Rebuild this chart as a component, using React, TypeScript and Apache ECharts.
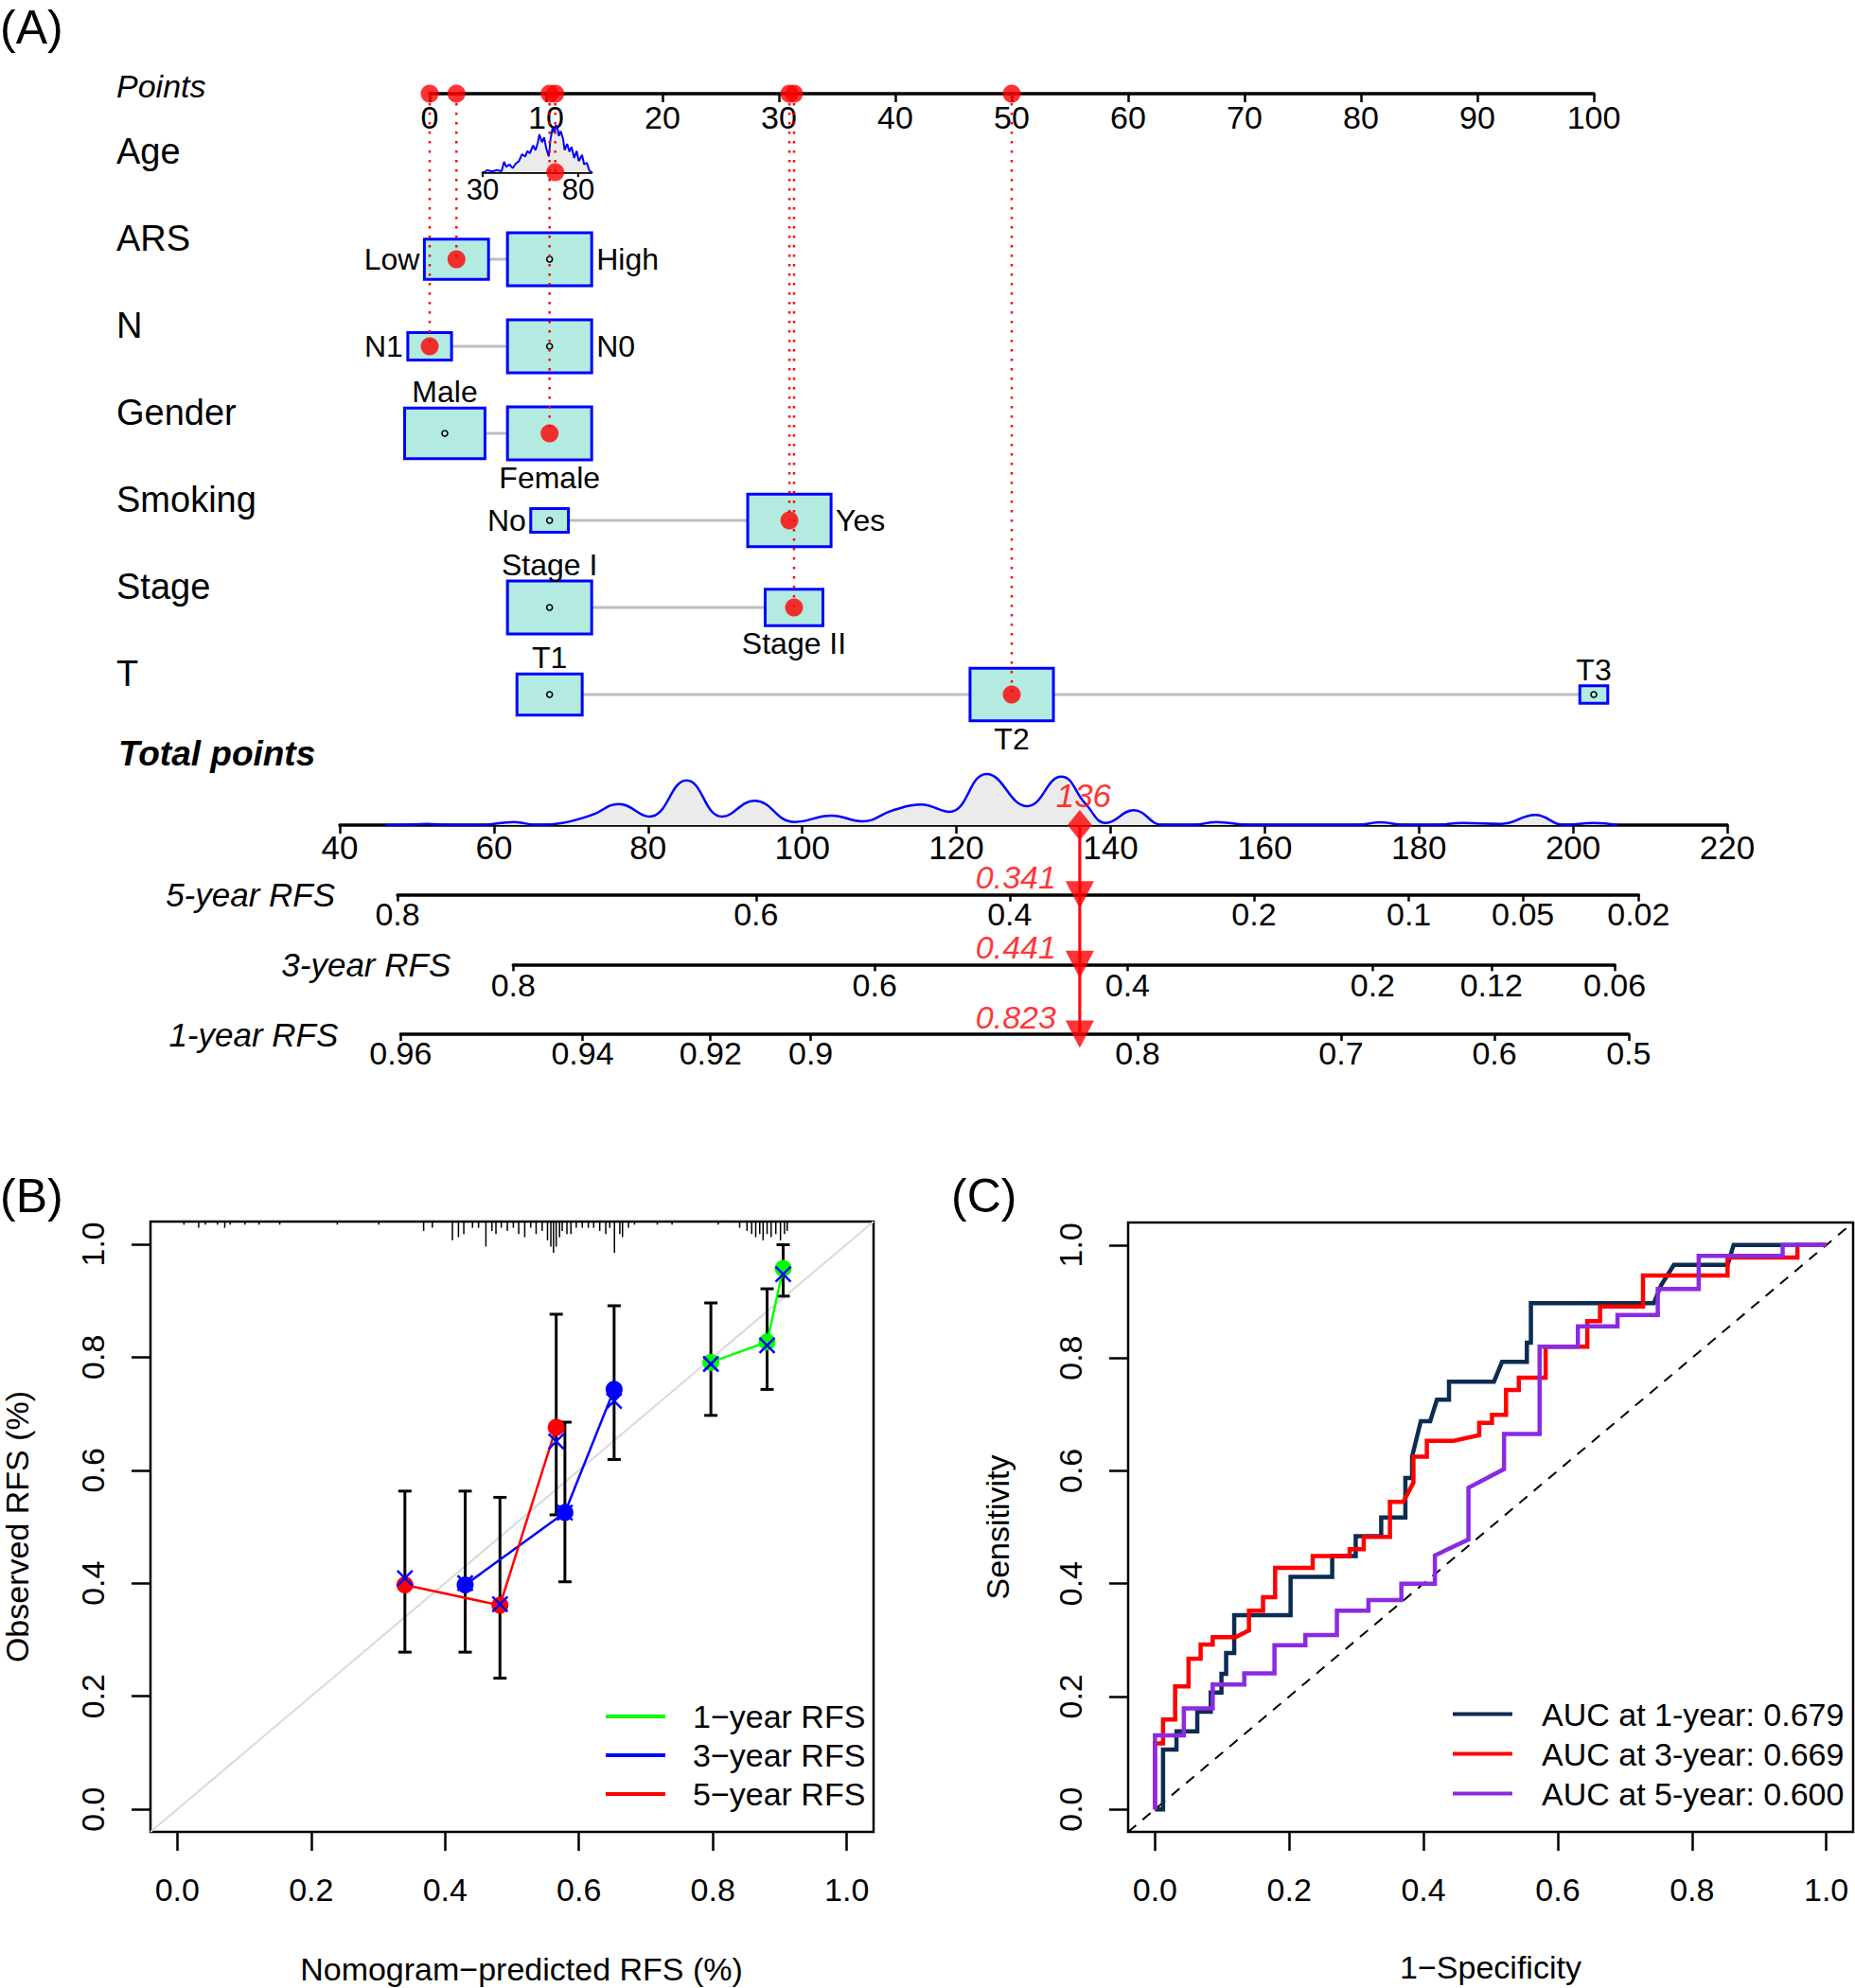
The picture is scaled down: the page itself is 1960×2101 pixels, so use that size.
import React, { useEffect, useRef } from 'react';
import * as echarts from 'echarts';

// ================= (A) Nomogram data =================
const rowNames = ['Age', 'ARS', 'N', 'Gender', 'Smoking', 'Stage', 'T'];

const ageTicks = [30, 80];
const ageAxisRange = [30, 87];
const agePointsAtTicks = [4.55, 12.76]; // nomogram points for age 30 and age 80
const patientAge = 68;
// [age, relative density]
const ageDensity = [
  [30.8, 0], [32.4, 2.3], [34.9, 0.7], [37.4, 2.3], [39.9, 1], [41.2, 11], [42.4, 5.7], [44.0, 8.3],
  [45.7, 4.3], [47.3, 9], [49.0, 11.7], [50.6, 19], [52.3, 16.7], [53.4, 22.3], [54.7, 20], [56.4, 28.3],
  [57.7, 23.3], [58.9, 31.7], [59.7, 40], [61.0, 31.7], [62.2, 36.7], [63.3, 25], [64.6, 16.7], [65.5, 35],
  [66.6, 46.7], [67.6, 41.7], [68.3, 50], [69.3, 45], [69.9, 38.3], [70.9, 43.3], [72.1, 35], [72.9, 23.3],
  [74.2, 30], [75.4, 21.7], [76.5, 26.7], [77.9, 15], [79.2, 22.3], [80.3, 11.7], [82.0, 18.3], [83.1, 8.3],
  [84.5, 10], [85.8, 1.7], [86.9, 0],
];

const factorLevels = [['Low', 'High'], ['N1', 'N0'], ['Male', 'Female'], ['No', 'Yes'], ['Stage I', 'Stage II'], ['T1', 'T2', 'T3']];
const factorPoints = [[2.3, 10.3], [0, 10.3], [1.3, 10.3], [10.3, 30.9], [10.3, 31.3], [10.3, 50, 100]];
const factorFreq = [[0.58, 1], [0.27, 1], [0.91, 1], [0.2, 0.98], [1, 0.47], [0.6, 0.98, 0.11]];
const patientLevel = [0, 0, 1, 1, 1, 1];

// total points density [points, relative density]
const totalDensity = [
  [46, 0], [48, 0], [51.3, 1.3], [54.4, 0], [58.2, 0], [62.6, 3.3], [65.7, 0], [68.9, 2.3], [72.7, 10.7],
  [76.2, 22.3], [80.2, 9], [85.0, 47.3], [89.6, 9], [93.8, 25.7], [99.0, 3.3], [103.8, 10], [107.8, 4],
  [111.8, 15.7], [115.4, 21.7], [119.1, 14], [123.9, 54], [129.2, 20], [133.6, 51.3], [136.8, 22],
  [139.4, 2.3], [143.0, 15.7], [146.8, 0], [150.5, 0], [153.7, 3.3], [158.1, 0], [171.9, 0], [175.0, 3],
  [178.2, 0], [181.9, 0], [185.7, 2.3], [190.7, 1.3], [195.1, 10.7], [198.9, 0], [202.7, 2.3], [205.8, 0],
];
const patientTotal = 136;

const rfsNames = ['5-year RFS', '3-year RFS', '1-year RFS'];
const rfsTickLabels = [
  ['0.8', '0.6', '0.4', '0.2', '0.1', '0.05', '0.02'],
  ['0.8', '0.6', '0.4', '0.2', '0.12', '0.06'],
  ['0.96', '0.94', '0.92', '0.9', '0.8', '0.7', '0.6', '0.5'],
];
// total points at which each RFS tick sits
const rfsTickPoints = [
  [47.5, 94, 126.9, 158.6, 178.7, 193.5, 208.5],
  [62.5, 109.4, 142.2, 174, 189.4, 205.4],
  [47.9, 71.5, 88.1, 101.1, 143.5, 169.9, 189.8, 207.2],
];
const rfsPatient = ['0.341', '0.441', '0.823'];

// ================= (B) Calibration data =================
const calNames = ['1−year RFS', '3−year RFS', '5−year RFS'];
const calPred = [[0.797, 0.881, 0.905], [0.430, 0.579, 0.6525], [0.340, 0.482, 0.566]];
const calObs = [[0.791, 0.827, 0.957], [0.397, 0.525, 0.743], [0.397, 0.361, 0.676]];
const calCorr = [[0.788, 0.821, 0.947], [0.400, 0.525, 0.7225], [0.409, 0.363, 0.651]];
const calLo = [[0.697, 0.743, 0.908], [0.278, 0.4025, 0.619], [0.278, 0.232, 0.521]];
const calHi = [[0.896, 0.921, 0.999], [0.563, 0.685, 0.891], [0.563, 0.552, 0.876]];
// rug of predicted values [value, count]
const calRug = [
  [0.010, 1], [0.032, 2], [0.042, 1], [0.060, 1], [0.071, 2], [0.079, 1], [0.101, 1], [0.122, 1], [0.153, 1],
  [0.239, 1], [0.301, 1], [0.368, 3], [0.381, 2], [0.411, 6], [0.420, 5], [0.428, 4], [0.441, 2], [0.450, 2],
  [0.461, 8], [0.470, 3], [0.476, 4], [0.484, 2], [0.493, 3], [0.502, 2], [0.510, 4], [0.519, 5], [0.528, 2],
  [0.536, 4], [0.545, 3], [0.553, 6], [0.558, 8], [0.562, 10], [0.566, 8], [0.571, 5], [0.575, 3], [0.582, 4],
  [0.588, 4], [0.596, 2], [0.605, 2], [0.614, 2], [0.622, 2], [0.631, 3], [0.640, 4], [0.646, 2], [0.653, 10],
  [0.661, 4], [0.665, 5], [0.674, 2], [0.683, 1], [0.717, 1], [0.739, 1], [0.808, 1], [0.840, 2], [0.851, 3],
  [0.858, 4], [0.864, 5], [0.870, 4], [0.875, 6], [0.881, 4], [0.887, 5], [0.894, 4], [0.901, 6], [0.907, 4],
  [0.911, 3],
];
const unitTicks = [0, 0.2, 0.4, 0.6, 0.8, 1.0];

// ================= (C) ROC data =================
const rocNames = ['AUC at 1-year: 0.679', 'AUC at 3-year: 0.669', 'AUC at 5-year: 0.600'];
const roc1y = [
  [0, 0], [0.012, 0], [0.012, 0.106], [0.032, 0.106], [0.032, 0.138], [0.063, 0.138], [0.063, 0.173],
  [0.083, 0.173], [0.083, 0.207], [0.099, 0.207], [0.099, 0.240], [0.106, 0.240], [0.106, 0.277],
  [0.118, 0.277], [0.118, 0.344], [0.202, 0.344], [0.202, 0.412], [0.264, 0.412], [0.264, 0.449],
  [0.299, 0.449], [0.299, 0.484], [0.337, 0.484], [0.337, 0.517], [0.373, 0.517], [0.373, 0.587],
  [0.383, 0.587], [0.383, 0.625], [0.396, 0.688], [0.410, 0.688], [0.420, 0.726], [0.438, 0.726],
  [0.438, 0.758], [0.505, 0.758], [0.517, 0.793], [0.554, 0.793], [0.554, 0.827], [0.560, 0.827],
  [0.560, 0.897], [0.743, 0.897], [0.754, 0.929], [0.773, 0.965], [0.853, 0.965], [0.862, 1.0], [1.0, 1.0],
];
const roc3y = [
  [0, 0], [0, 0.117], [0.012, 0.117], [0.012, 0.159], [0.030, 0.159], [0.030, 0.218], [0.050, 0.218],
  [0.050, 0.267], [0.068, 0.267], [0.068, 0.292], [0.086, 0.292], [0.086, 0.305], [0.120, 0.305],
  [0.140, 0.317], [0.140, 0.352], [0.161, 0.352], [0.161, 0.376], [0.179, 0.376], [0.179, 0.428],
  [0.235, 0.428], [0.235, 0.449], [0.290, 0.449], [0.290, 0.461], [0.311, 0.461], [0.311, 0.483],
  [0.350, 0.483], [0.350, 0.545], [0.370, 0.545], [0.385, 0.579], [0.385, 0.625], [0.405, 0.625],
  [0.405, 0.653], [0.445, 0.653], [0.483, 0.663], [0.483, 0.685], [0.502, 0.685], [0.502, 0.699],
  [0.523, 0.699], [0.523, 0.743], [0.542, 0.743], [0.542, 0.765], [0.582, 0.765], [0.582, 0.820],
  [0.644, 0.820], [0.644, 0.865], [0.663, 0.865], [0.663, 0.891], [0.727, 0.891], [0.727, 0.946],
  [0.853, 0.946], [0.853, 0.978], [0.957, 0.978], [0.957, 1.0], [1.0, 1.0],
];
const roc5y = [
  [0, 0], [0, 0.131], [0.043, 0.131], [0.043, 0.179], [0.086, 0.179], [0.086, 0.221], [0.133, 0.221],
  [0.133, 0.241], [0.178, 0.241], [0.178, 0.291], [0.224, 0.291], [0.224, 0.309], [0.271, 0.309],
  [0.271, 0.352], [0.318, 0.352], [0.318, 0.371], [0.367, 0.371], [0.367, 0.400], [0.417, 0.400],
  [0.417, 0.450], [0.467, 0.478], [0.467, 0.570], [0.520, 0.603], [0.520, 0.665], [0.573, 0.665],
  [0.573, 0.820], [0.630, 0.820], [0.630, 0.856], [0.689, 0.856], [0.689, 0.876], [0.749, 0.876],
  [0.749, 0.922], [0.810, 0.922], [0.810, 0.981], [0.935, 0.981], [0.935, 1.0], [1.0, 1.0],
];

// ================= layout & style =================
const FONT = "'Liberation Sans', Arial, Helvetica, sans-serif";
const PX0 = 454, PW = 1230; // points axis 0..100
const TX0 = 359, TW = 1466; // total points axis 40..220
const POINTS_Y = 99, ROW0 = 182, ROWH = 92;
const TOTAL_Y = 872, RFS_STEP = 73.67;
const RFS_LABEL_MARGIN = [5, 7, 5];
const BOX_W = 89, BOX_H = 56;
const BOX_FILL = '#b3ebe0';
const levelLabelSide = [['left', 'right'], ['left', 'right'], ['top', 'bottom'], ['left', 'right'], ['top', 'bottom'], ['top', 'bottom', 'top']];

const ptsX = (p: number) => PX0 + (p / 100) * PW;
const totX = (p: number) => TX0 + ((p - 40) / 180) * TW;
const rowY = (r: number) => ROW0 + ROWH * r;
const Y_POINTS_ROW = (POINTS_Y - ROW0) / ROWH;
const agePts = (a: number) =>
  agePointsAtTicks[0] + ((a - ageTicks[0]) * (agePointsAtTicks[1] - agePointsAtTicks[0])) / (ageTicks[1] - ageTicks[0]);

function buildOption() {
  const boxItems: any[] = [];
  factorLevels.forEach((levels, i) =>
    levels.forEach((name, j) =>
      boxItems.push({
        name,
        pts: factorPoints[i][j],
        row: i + 1,
        freq: factorFreq[i][j],
        selected: patientLevel[i] === j,
        side: levelLabelSide[i][j],
      })
    )
  );
  const selected = [{ pts: agePts(patientAge), row: 0 }].concat(
    factorPoints.map((p, i) => ({ pts: p[patientLevel[i]], row: i + 1 }))
  );

  const baseAxisText = { color: '#000', fontFamily: FONT };

  const grids: any[] = [
    { left: PX0, top: POINTS_Y, width: PW, height: rowY(6) - POINTS_Y },
    {
      left: ptsX(agePts(ageAxisRange[0])),
      top: ROW0 - 50,
      width: ptsX(agePts(ageAxisRange[1])) - ptsX(agePts(ageAxisRange[0])),
      height: 50,
    },
    { left: TX0, top: TOTAL_Y - 60, width: TW, height: 60 },
    { left: TX0, top: TOTAL_Y, width: TW, height: 3 * RFS_STEP },
  ];
  rfsTickPoints.forEach((tp, k) => {
    const y = TOTAL_Y + RFS_STEP * (k + 1);
    grids.push({ left: totX(tp[0]), width: totX(tp[tp.length - 1]) - totX(tp[0]), top: y - 10, height: 10 });
  });
  grids.push({ left: 157, top: 1291, width: 766, height: 645, show: true, borderColor: '#000', borderWidth: 2.5, backgroundColor: 'transparent' });
  grids.push({ left: 1192, top: 1292, width: 766, height: 644, show: true, borderColor: '#000', borderWidth: 2.5, backgroundColor: 'transparent' });

  const xAxes: any[] = [
    {
      gridIndex: 0, type: 'value', position: 'top', min: 0, max: 100, interval: 10,
      axisLine: { onZero: false, lineStyle: { color: '#000', width: 3.5 } },
      axisTick: { inside: true, length: 9, lineStyle: { color: '#000', width: 2.5 } },
      axisLabel: { inside: true, margin: 8, fontSize: 34, ...baseAxisText },
      splitLine: { show: false },
    },
    {
      gridIndex: 1, type: 'value', min: ageAxisRange[0], max: ageAxisRange[1],
      axisLine: { onZero: false, lineStyle: { color: '#000', width: 2.5 } },
      axisTick: { customValues: ageTicks, length: 5, lineStyle: { color: '#000', width: 2 } },
      axisLabel: { customValues: ageTicks, margin: 3, fontSize: 31, ...baseAxisText },
      splitLine: { show: false },
    },
    {
      gridIndex: 2, type: 'value', min: 40, max: 220, interval: 20,
      axisLine: { onZero: false, lineStyle: { color: '#000', width: 3.5 } },
      axisTick: { length: 9, lineStyle: { color: '#000', width: 2.5 } },
      axisLabel: { margin: 6, fontSize: 35, ...baseAxisText },
      splitLine: { show: false },
    },
    { gridIndex: 3, type: 'value', min: 40, max: 220, show: false, axisLine: { onZero: false } },
  ];
  rfsTickPoints.forEach((tp, k) => {
    xAxes.push({
      gridIndex: 4 + k, type: 'value', min: tp[0], max: tp[tp.length - 1],
      axisLine: { onZero: false, lineStyle: { color: '#000', width: 3.5 } },
      axisTick: { customValues: tp, length: 7, lineStyle: { color: '#000', width: 2.5 } },
      axisLabel: {
        customValues: tp, margin: RFS_LABEL_MARGIN[k], fontSize: 34, lineHeight: 30, ...baseAxisText,
        formatter: (v: number) => {
          const idx = tp.findIndex((t) => Math.abs(t - v) < 1e-6);
          return idx >= 0 ? rfsTickLabels[k][idx] : '';
        },
      },
      splitLine: { show: false },
      name: rfsNames[k], nameLocation: 'start', nameGap: 66,
      nameTextStyle: { fontSize: 35, fontStyle: 'italic', ...baseAxisText, padding: [0, 0, 6, 0] },
    });
  });
  const unitAxis = (gridIndex: number, isY: boolean, name: string, nameGap: number, namePad: number[]) => ({
    gridIndex, type: 'value', min: -0.04, max: 1.04,
    axisLine: { show: false, onZero: false },
    axisTick: { customValues: unitTicks, length: 20, lineStyle: { color: '#000', width: 2.5 } },
    axisLabel: {
      customValues: unitTicks, margin: 44, fontSize: 34, rotate: isY ? 90 : 0, ...baseAxisText,
      formatter: (v: number) => v.toFixed(1),
    },
    splitLine: { show: false },
    name, nameLocation: 'middle', nameGap,
    nameTextStyle: { fontSize: 34, ...baseAxisText, padding: namePad },
  });
  xAxes.push(unitAxis(7, false, 'Nomogram−predicted RFS (%)', 128, [0, 0, 0, 20]));
  xAxes.push(unitAxis(8, false, '1−Specificity', 126, [0, 0, 0, 0]));

  const yAxes: any[] = [
    { gridIndex: 0, type: 'value', min: Y_POINTS_ROW, max: 6, inverse: true, show: false, axisLine: { onZero: false } },
    { gridIndex: 1, type: 'value', min: 0, max: 50, show: false, axisLine: { onZero: false } },
    { gridIndex: 2, type: 'value', min: 0, max: 60, show: false, axisLine: { onZero: false } },
    { gridIndex: 3, type: 'value', min: 0, max: 3, inverse: true, show: false, axisLine: { onZero: false } },
    { gridIndex: 4, type: 'value', min: 0, max: 1, show: false, axisLine: { onZero: false } },
    { gridIndex: 5, type: 'value', min: 0, max: 1, show: false, axisLine: { onZero: false } },
    { gridIndex: 6, type: 'value', min: 0, max: 1, show: false, axisLine: { onZero: false } },
    unitAxis(7, true, 'Observed RFS (%)', 124, [0, 0, 0, 0]),
    unitAxis(8, true, 'Sensitivity', 121, [0, 0, 0, 0]),
  ];

  const series: any[] = [];
  // connectors
  series.push({
    type: 'custom', xAxisIndex: 0, yAxisIndex: 0, z: 2, silent: true,
    data: factorPoints.map((p, i) => [Math.min(...p), i + 1, Math.max(...p)]),
    renderItem: (params: any, api: any) => {
      const a = api.coord([api.value(0), api.value(1)]);
      const b = api.coord([api.value(2), api.value(1)]);
      return { type: 'line', shape: { x1: a[0], y1: a[1], x2: b[0], y2: b[1] }, style: { stroke: '#bebebe', lineWidth: 3 } };
    },
  });
  // boxes
  series.push({
    type: 'custom', xAxisIndex: 0, yAxisIndex: 0, z: 3, silent: true,
    data: boxItems.map((b, k) => [b.pts, b.row, k]),
    renderItem: (params: any, api: any) => {
      const b = boxItems[params.dataIndex];
      const c = api.coord([b.pts, b.row]);
      const s = Math.sqrt(b.freq);
      const w = BOX_W * s, h = BOX_H * s;
      const children: any[] = [
        { type: 'rect', shape: { x: c[0] - w / 2, y: c[1] - h / 2, width: w, height: h }, style: { fill: BOX_FILL, stroke: '#0000ff', lineWidth: 3 } },
      ];
      if (!b.selected) {
        children.push({ type: 'circle', shape: { cx: c[0], cy: c[1], r: 3 }, style: { fill: 'none', stroke: '#000', lineWidth: 1.6 } });
      }
      let tx = c[0], ty = c[1], align = 'center';
      if (b.side === 'left') { tx = c[0] - w / 2 - 5; align = 'right'; }
      else if (b.side === 'right') { tx = c[0] + w / 2 + 5; align = 'left'; }
      else if (b.side === 'top') { ty = c[1] - h / 2 - 17; }
      else { ty = c[1] + h / 2 + 19; }
      children.push({
        type: 'text', x: tx, y: ty,
        style: { text: b.name, fontSize: 32, fontFamily: FONT, fill: '#000', align, verticalAlign: 'middle' },
      });
      return { type: 'group', children };
    },
  });
  // dotted guide lines
  series.push({
    type: 'custom', xAxisIndex: 0, yAxisIndex: 0, z: 4, silent: true,
    data: selected.map((s) => [s.pts, s.row]),
    renderItem: (params: any, api: any) => {
      const a = api.coord([api.value(0), Y_POINTS_ROW]);
      const b = api.coord([api.value(0), api.value(1)]);
      return {
        type: 'line', shape: { x1: a[0], y1: a[1], x2: b[0], y2: b[1] },
        style: { stroke: '#ff0000', lineWidth: 2.5, lineDash: [2.5, 7.5] },
      };
    },
  });
  // red dots
  series.push({
    type: 'scatter', xAxisIndex: 0, yAxisIndex: 0, z: 5, silent: true, clip: false,
    symbol: 'circle', symbolSize: 19, itemStyle: { color: '#ff0000' },
    data: selected.map((s) => [s.pts, s.row]).concat(selected.map((s) => [s.pts, Y_POINTS_ROW])),
  });
  // age density
  series.push({
    type: 'line', xAxisIndex: 1, yAxisIndex: 1, symbol: 'none', silent: true,
    data: ageDensity,
    lineStyle: { color: '#0000ff', width: 2 },
    areaStyle: { color: '#ebebeb', opacity: 1 },
    z: 2,
  });
  // total density
  series.push({
    type: 'line', xAxisIndex: 2, yAxisIndex: 2, symbol: 'none', silent: true, smooth: 0.45,
    data: totalDensity,
    lineStyle: { color: '#0000ff', width: 2.5 },
    areaStyle: { color: '#ebebeb', opacity: 1 },
    z: 2,
  });
  // diamond
  series.push({
    type: 'scatter', xAxisIndex: 2, yAxisIndex: 2, clip: false, silent: true, z: 6,
    symbol: 'diamond', symbolSize: [26, 32], itemStyle: { color: '#ff0000' },
    data: [[patientTotal, 0]],
    label: {
      show: true, position: 'top', distance: -2, offset: [4, 0], formatter: String(patientTotal),
      fontSize: 35, fontStyle: 'italic', color: '#ff0000', fontFamily: FONT,
    },
  });
  // red vertical line
  series.push({
    type: 'line', xAxisIndex: 3, yAxisIndex: 3, symbol: 'none', silent: true, z: 5,
    data: [[patientTotal, 0], [patientTotal, 3]],
    lineStyle: { color: '#ff0000', width: 3 },
  });
  // arrows
  series.push({
    type: 'scatter', xAxisIndex: 3, yAxisIndex: 3, clip: false, silent: true, z: 6,
    symbol: 'path://M0 0 L20 0 L10 20 Z', symbolSize: [30, 29], itemStyle: { color: '#ff0000' },
    data: rfsPatient.map((v, k) => ({
      value: [patientTotal, k + 1],
      label: {
        show: true, formatter: v, position: [-10, -4], align: 'right', verticalAlign: 'middle',
        fontSize: 34, lineHeight: 26, fontStyle: 'italic', color: '#ff0000', fontFamily: FONT,
      },
    })),
  });

  // ---- (B) calibration ----
  series.push({
    type: 'line', xAxisIndex: 7, yAxisIndex: 7, symbol: 'none', silent: true, z: 1,
    data: [[-0.04, -0.04], [1.04, 1.04]],
    lineStyle: { color: '#d9d9d9', width: 2 },
  });
  series.push({
    type: 'custom', xAxisIndex: 7, yAxisIndex: 7, silent: true, z: 2,
    data: calRug,
    renderItem: (params: any, api: any) => {
      const p = api.coord([api.value(0), 1.04]);
      return {
        type: 'line', shape: { x1: p[0], y1: p[1], x2: p[0], y2: p[1] + api.value(1) * 3.3 },
        style: { stroke: '#000', lineWidth: 1.5 },
      };
    },
  });
  const bars: number[][] = [];
  calPred.forEach((px, s) => px.forEach((x, i) => bars.push([x, calLo[s][i], calHi[s][i]])));
  series.push({
    type: 'custom', xAxisIndex: 7, yAxisIndex: 7, silent: true, z: 3,
    data: bars,
    renderItem: (params: any, api: any) => {
      const a = api.coord([api.value(0), api.value(1)]);
      const b = api.coord([api.value(0), api.value(2)]);
      const st = { stroke: '#000', lineWidth: 3 };
      return {
        type: 'group',
        children: [
          { type: 'line', shape: { x1: a[0], y1: a[1], x2: b[0], y2: b[1] }, style: st },
          { type: 'line', shape: { x1: a[0] - 7, y1: a[1], x2: a[0] + 7, y2: a[1] }, style: st },
          { type: 'line', shape: { x1: b[0] - 7, y1: b[1], x2: b[0] + 7, y2: b[1] }, style: st },
        ],
      };
    },
  });
  const calColors = ['#00ff00', '#0000ff', '#ff0000'];
  calNames.forEach((name, s) => {
    series.push({
      type: 'line', name, xAxisIndex: 7, yAxisIndex: 7, silent: true, z: 4,
      symbol: 'circle', symbolSize: 18,
      data: calPred[s].map((x, i) => [x, calObs[s][i]]),
      lineStyle: { color: calColors[s], width: 2.5 },
      itemStyle: { color: calColors[s] },
    });
  });
  const xs: number[][] = [];
  calPred.forEach((px, s) => px.forEach((x, i) => xs.push([x, calCorr[s][i]])));
  series.push({
    type: 'custom', xAxisIndex: 7, yAxisIndex: 7, silent: true, z: 5,
    data: xs,
    renderItem: (params: any, api: any) => {
      const c = api.coord([api.value(0), api.value(1)]);
      const d = 8;
      const st = { stroke: '#0000ff', lineWidth: 2.5 };
      return {
        type: 'group',
        children: [
          { type: 'line', shape: { x1: c[0] - d, y1: c[1] - d, x2: c[0] + d, y2: c[1] + d }, style: st },
          { type: 'line', shape: { x1: c[0] - d, y1: c[1] + d, x2: c[0] + d, y2: c[1] - d }, style: st },
        ],
      };
    },
  });

  // ---- (C) ROC ----
  series.push({
    type: 'line', xAxisIndex: 8, yAxisIndex: 8, symbol: 'none', silent: true, z: 1,
    data: [[-0.04, -0.04], [1.04, 1.04]],
    lineStyle: { color: '#000', width: 2, type: [11, 9] },
  });
  const rocColors = ['#0c2c52', '#ff0000', '#8a2be2'];
  [roc1y, roc3y, roc5y].forEach((d, s) => {
    series.push({
      type: 'line', name: rocNames[s], xAxisIndex: 8, yAxisIndex: 8, symbol: 'none', silent: true, z: 2 + s,
      data: d,
      lineStyle: { color: rocColors[s], width: 4.5, join: 'miter' },
      itemStyle: { color: rocColors[s] },
    });
  });

  const legendBase = {
    orient: 'vertical', icon: 'rect', itemWidth: 63, itemHeight: 4, itemGap: 0, padding: 0,
    selectedMode: false,
  };

  const graphics: any[] = [
    { type: 'text', x: 0, y: 29, style: { text: '(A)', fontSize: 50, fontFamily: FONT, fill: '#000', verticalAlign: 'middle' } },
    { type: 'text', x: 0, y: 1264, style: { text: '(B)', fontSize: 50, fontFamily: FONT, fill: '#000', verticalAlign: 'middle' } },
    { type: 'text', x: 1005, y: 1264, style: { text: '(C)', fontSize: 50, fontFamily: FONT, fill: '#000', verticalAlign: 'middle' } },
    { type: 'text', x: 123, y: 91, style: { text: 'Points', fontSize: 34, fontStyle: 'italic', fontFamily: FONT, fill: '#000', verticalAlign: 'middle' } },
    { type: 'text', x: 125, y: 796, style: { text: 'Total points', fontSize: 37, fontStyle: 'italic', fontWeight: 'bold', fontFamily: FONT, fill: '#000', verticalAlign: 'middle' } },
  ];
  rowNames.forEach((name, r) => {
    graphics.push({
      type: 'text', x: 123, y: rowY(r) - 22,
      style: { text: name, fontSize: 38, fontFamily: FONT, fill: '#000', verticalAlign: 'middle' },
    });
  });

  return {
    animation: false,
    backgroundColor: '#ffffff',
    textStyle: { fontFamily: FONT },
    grid: grids,
    xAxis: xAxes,
    yAxis: yAxes,
    series,
    legend: [
      {
        ...legendBase, left: 640, top: 1793.5, data: calNames,
        textStyle: { fontSize: 34, fontFamily: FONT, color: '#000', lineHeight: 41, padding: [0, 0, 0, 24] },
      },
      {
        ...legendBase, left: 1535, top: 1790.5, data: rocNames,
        textStyle: { fontSize: 34, fontFamily: FONT, color: '#000', lineHeight: 42, padding: [0, 0, 0, 26] },
      },
    ],
    graphic: graphics,
  };
}

export default function App() {
  const ref = useRef<HTMLDivElement>(null);
  useEffect(() => {
    const chart = echarts.init(ref.current as HTMLDivElement, null, { renderer: 'svg' });
    chart.setOption(buildOption() as any);
    return () => chart.dispose();
  }, []);
  return (
    <div
      ref={ref}
      style={{ position: 'absolute', left: 0, top: 0, width: 1960, height: 2101, background: '#fff' }}
    />
  );
}
